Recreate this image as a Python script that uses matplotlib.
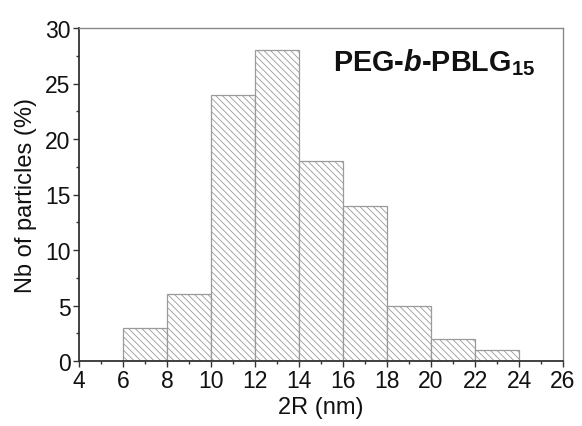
import matplotlib
matplotlib.use("Agg")
import matplotlib.pyplot as plt
from matplotlib.ticker import MultipleLocator

plt.rcParams['font.family'] = ['Liberation Sans', 'DejaVu Sans']
plt.rcParams['mathtext.fontset'] = 'custom'
plt.rcParams['mathtext.rm'] = 'Liberation Sans'
plt.rcParams['mathtext.bf'] = 'Liberation Sans:bold'
plt.rcParams['mathtext.bfit'] = 'Liberation Sans:bold:italic'
plt.rcParams['hatch.linewidth'] = 0.6
plt.rcParams['hatch.color'] = '#b4b4b4'

bin_left = [6, 8, 10, 12, 14, 16, 18, 20, 22]
percent = [3, 6, 24, 28, 18, 14, 5, 2, 1]
bin_width = 2
x_ticks = [4, 6, 8, 10, 12, 14, 16, 18, 20, 22, 24, 26]
y_ticks = [0, 5, 10, 15, 20, 25, 30]

fig = plt.figure(figsize=(5.82, 4.27), dpi=100)
ax = fig.add_axes([79/582, 1-362/427, (563-79)/582, (362-29)/427])

ax.bar(bin_left, percent, width=bin_width, align='edge', facecolor='white',
       edgecolor='#9a9a9a', linewidth=0.9, hatch='\\\\\\\\\\')

ax.set_xlim(4, 26)
ax.set_ylim(0, 30)
ax.set_xticks(x_ticks)
ax.set_yticks(y_ticks)
ax.xaxis.set_minor_locator(MultipleLocator(1))
ax.yaxis.set_minor_locator(MultipleLocator(2.5))
ax.tick_params(which='major', direction='out', length=4, width=1, color='#333333',
               labelsize=16.5, pad=2, labelcolor='#111111')
ax.tick_params(which='minor', direction='out', length=2, width=1, color='#333333')
ax.tick_params(top=False, right=False, which='both')

for s in ['left', 'bottom']:
    ax.spines[s].set_color('#333333')
    ax.spines[s].set_linewidth(1.3)
for s in ['top', 'right']:
    ax.spines[s].set_color('#8a8a8a')
    ax.spines[s].set_linewidth(1.0)

ax.set_xlabel('2R (nm)', fontsize=17, labelpad=3, color='#111111')
ax.set_ylabel('Nb of particles (%)', fontsize=17, labelpad=6, color='#111111')

ax.text(0.942, 0.874, r'PEG-$\mathbfit{b}$-PBLG$_{\mathbf{15}}$', transform=ax.transAxes,
        ha='right', va='baseline', fontsize=20.8, fontweight='bold', color='#111111')

fig.savefig('out.png', dpi=100)
